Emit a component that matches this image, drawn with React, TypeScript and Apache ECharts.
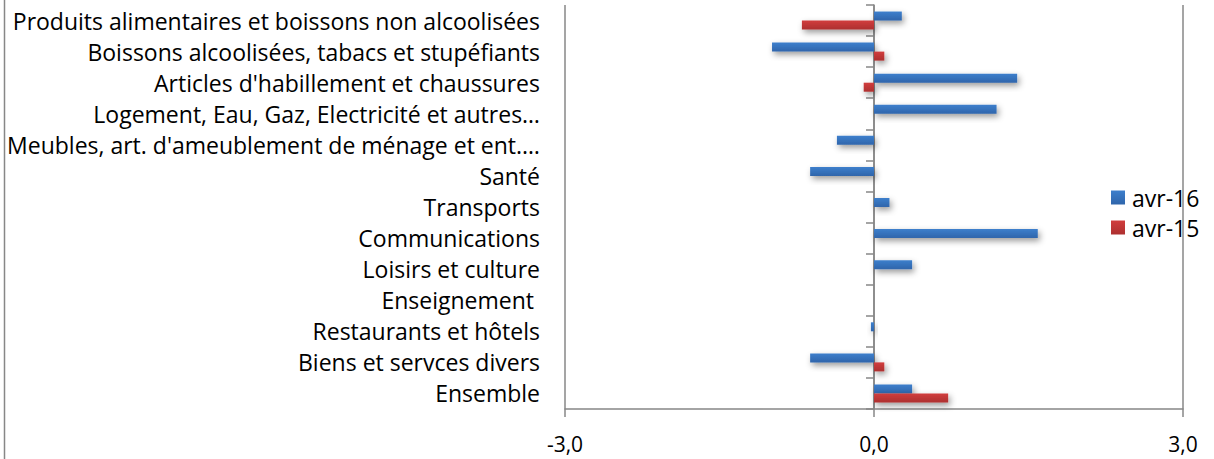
import React, { useEffect, useRef } from "react";
import * as echarts from "echarts";

const categories = [
  "Produits alimentaires et boissons non alcoolisées",
  "Boissons alcoolisées, tabacs et stupéfiants",
  "Articles d'habillement et chaussures",
  "Logement, Eau, Gaz, Electricité et autres…",
  "Meubles, art. d'ameublement de ménage et ent.…",
  "Santé",
  "Transports",
  "Communications",
  "Loisirs et culture",
  "Enseignement ",
  "Restaurants et hôtels",
  "Biens et servces divers",
  "Ensemble",
];

const avr16 = [0.27, -0.99, 1.39, 1.19, -0.36, -0.62, 0.15, 1.59, 0.37, 0, -0.03, -0.62, 0.37];
const avr15 = [-0.7, 0.1, -0.1, 0, 0, 0, 0, 0, 0, 0, 0, 0.1, 0.72];

const seriesNames = ["avr-16", "avr-15"];
const xTicks = { min: -3, max: 3, interval: 3 };

const FONT = "Open Sans";
const GRAY = "#878787";

export default function App() {
  const ref = useRef<HTMLDivElement>(null);

  useEffect(() => {
    if (!ref.current) return;
    const chart = echarts.init(ref.current, undefined, { renderer: "svg" });
    const grad = (a: string, b: string) =>
      new echarts.graphic.LinearGradient(0, 0, 0, 1, [
        { offset: 0, color: a },
        { offset: 1, color: b },
      ]);
    const shadow = {
      shadowColor: "rgba(0,0,0,0.4)",
      shadowBlur: 6,
      shadowOffsetX: 2,
      shadowOffsetY: 3,
    };
    chart.setOption({
      animation: false,
      backgroundColor: "#ffffff",
      textStyle: { fontFamily: FONT },
      grid: { left: 565, right: 31, top: 5, bottom: 50, containLabel: false },
      legend: {
        orient: "vertical",
        left: 1106,
        top: 181,
        itemWidth: 14,
        itemHeight: 14,
        itemGap: 7,
        icon: "rect",
        data: seriesNames,
        textStyle: { fontFamily: FONT, fontSize: 23, lineHeight: 23, color: "#000", padding: [0, 0, 0, 2] },
      },
      graphic: [
        {
          type: "line",
          shape: { x1: 4.5, y1: 0, x2: 4.5, y2: 459 },
          style: { stroke: GRAY, lineWidth: 1.5 },
          silent: true,
        },
      ],
      xAxis: {
        type: "value",
        min: xTicks.min,
        max: xTicks.max,
        interval: xTicks.interval,
        axisLine: { show: true, onZero: false, lineStyle: { color: GRAY, width: 1.5 } },
        axisTick: { show: true, length: 8, lineStyle: { color: GRAY, width: 1.5 } },
        splitLine: { show: true, lineStyle: { color: GRAY, width: 1.5 } },
        axisLabel: {
          margin: 24,
          fontFamily: FONT,
          fontSize: 21,
          color: "#000",
          formatter: (v: number) => v.toFixed(1).replace(".", ","),
        },
      },
      yAxis: [
        {
          type: "category",
          data: categories,
          inverse: true,
          axisLine: { show: false, onZero: false },
          axisTick: { show: false },
          splitLine: { show: false },
          axisLabel: { margin: 25, fontFamily: FONT, fontSize: 23, color: "#000" },
        },
        {
          type: "category",
          data: categories,
          inverse: true,
          position: "left",
          axisLine: { show: true, onZero: true, lineStyle: { color: GRAY, width: 1.5 } },
          axisTick: { show: true, length: 8, lineStyle: { color: GRAY, width: 1.5 } },
          axisLabel: { show: false },
          splitLine: { show: false },
        },
      ],
      series: [
        {
          name: seriesNames[0],
          type: "bar",
          yAxisIndex: 0,
          data: avr16,
          barWidth: 9,
          barGap: "0%",
          itemStyle: { color: grad("#3d7fcc", "#2f65ab"), ...shadow },
        },
        {
          name: seriesNames[1],
          type: "bar",
          yAxisIndex: 0,
          data: avr15,
          barWidth: 9,
          barGap: "0%",
          itemStyle: { color: grad("#d13d3d", "#ad3030"), ...shadow },
        },
      ],
    });
    return () => chart.dispose();
  }, []);

  return (
    <div
      ref={ref}
      style={{ position: "absolute", left: 0, top: 0, width: 1214, height: 459 }}
    />
  );
}
